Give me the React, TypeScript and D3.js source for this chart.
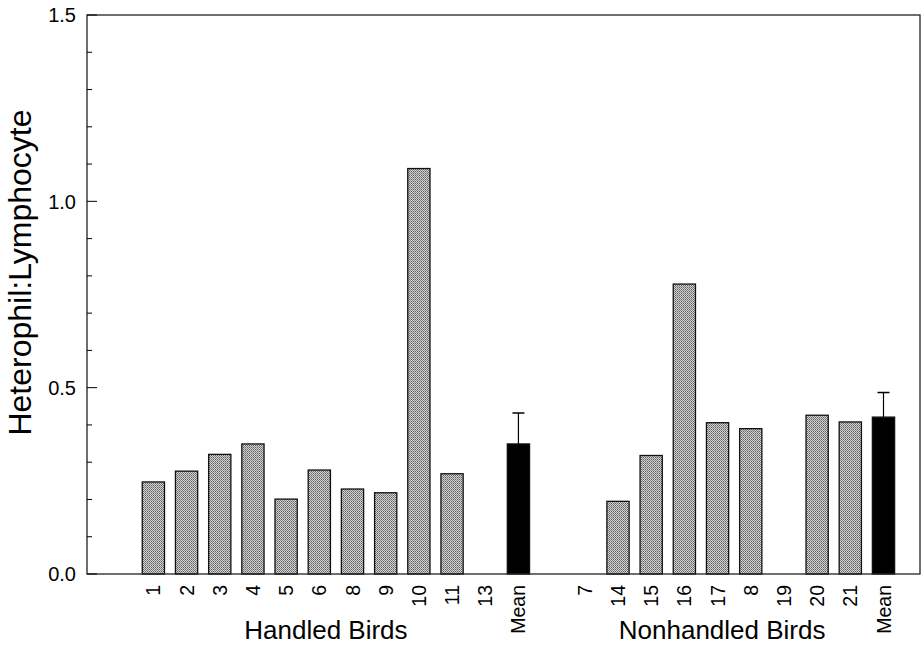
import React, { useRef, useEffect } from "react";
import * as d3 from "d3";

const handledLabels = ["1", "2", "3", "4", "5", "6", "8", "9", "10", "11", "13", "Mean"];
const handledValues = [0.247, 0.276, 0.321, 0.349, 0.201, 0.279, 0.228, 0.218, 1.088, 0.269, 0, 0.349];
const nonhandledLabels = ["7", "14", "15", "16", "17", "8", "19", "20", "21", "Mean"];
const nonhandledValues = [0, 0.195, 0.318, 0.778, 0.406, 0.39, 0, 0.426, 0.408, 0.421];
const meanErrors = [0.083, 0.066];
const yTicks = [0, 0.5, 1.0, 1.5];
const groupTitles = ["Handled Birds", "Nonhandled Birds"];

type Bar = { label: string; value: number; slot: number; isMean: boolean; err: number };

function App() {
    const svgRef = useRef<SVGSVGElement>(null);

    useEffect(() => {
        const width = 922;
        const height = 645;
        const margin = { top: 15, right: 2, bottom: 71, left: 87 };
        const innerWidth = width - margin.left - margin.right;
        const innerHeight = height - margin.top - margin.bottom;
        const font = "Liberation Sans, Arial, sans-serif";

        const bars: Bar[] = [];
        handledLabels.forEach((label, i) =>
            bars.push({ label, value: handledValues[i], slot: i, isMean: label === "Mean", err: label === "Mean" ? meanErrors[0] : 0 })
        );
        nonhandledLabels.forEach((label, i) =>
            bars.push({ label, value: nonhandledValues[i], slot: handledLabels.length + 1 + i, isMean: label === "Mean", err: label === "Mean" ? meanErrors[1] : 0 })
        );

        const svg = d3.select(svgRef.current);
        svg.selectAll("*").remove();
        svg.attr("width", width).attr("height", height);

        const pattern = svg.append("defs")
            .append("pattern")
            .attr("id", "stipple")
            .attr("width", 2)
            .attr("height", 2)
            .attr("patternUnits", "userSpaceOnUse");
        pattern.append("rect").attr("width", 2).attr("height", 2).attr("fill", "#d2d2d2");
        pattern.append("rect").attr("x", 0).attr("y", 0).attr("width", 1).attr("height", 1).attr("fill", "#606060");
        pattern.append("rect").attr("x", 1).attr("y", 1).attr("width", 1).attr("height", 1).attr("fill", "#858585");

        const xScale = d3.scaleLinear().domain([-2, 23.1]).range([0, innerWidth]);
        const yScale = d3.scaleLinear().domain([0, 1.5]).range([innerHeight, 0]);
        const barWidth = (xScale(1) - xScale(0)) * 0.67;

        const g = svg.append("g").attr("transform", `translate(${margin.left},${margin.top})`);

        // bars
        g.selectAll("rect.bar")
            .data(bars.filter((d) => d.value > 0))
            .enter()
            .append("rect")
            .attr("class", "bar")
            .attr("x", (d) => xScale(d.slot) - barWidth / 2)
            .attr("y", (d) => yScale(d.value))
            .attr("width", barWidth)
            .attr("height", (d) => innerHeight - yScale(d.value))
            .attr("fill", (d) => (d.isMean ? "#000" : "url(#stipple)"))
            .attr("stroke", "#111")
            .attr("stroke-width", 1.3);

        // error bars (upper only)
        const errs = bars.filter((d) => d.isMean);
        g.selectAll("line.err")
            .data(errs)
            .enter()
            .append("line")
            .attr("x1", (d) => xScale(d.slot))
            .attr("x2", (d) => xScale(d.slot))
            .attr("y1", (d) => yScale(d.value))
            .attr("y2", (d) => yScale(d.value + d.err))
            .attr("stroke", "#000")
            .attr("stroke-width", 1.2);
        g.selectAll("line.cap")
            .data(errs)
            .enter()
            .append("line")
            .attr("x1", (d) => xScale(d.slot) - 6)
            .attr("x2", (d) => xScale(d.slot) + 6)
            .attr("y1", (d) => yScale(d.value + d.err))
            .attr("y2", (d) => yScale(d.value + d.err))
            .attr("stroke", "#000")
            .attr("stroke-width", 1.5);

        // frame
        g.append("rect")
            .attr("x", 0)
            .attr("y", 0)
            .attr("width", innerWidth)
            .attr("height", innerHeight)
            .attr("fill", "none")
            .attr("stroke", "#222")
            .attr("stroke-width", 1.3);

        // y ticks, inward
        const minor = d3.range(0, 1.501, 0.1).filter((v) => !yTicks.some((t) => Math.abs(t - v) < 1e-6));
        g.selectAll("line.minor")
            .data(minor)
            .enter()
            .append("line")
            .attr("x1", 0)
            .attr("x2", 5)
            .attr("y1", (d) => yScale(d))
            .attr("y2", (d) => yScale(d))
            .attr("stroke", "#000");
        g.selectAll("line.major")
            .data(yTicks)
            .enter()
            .append("line")
            .attr("x1", 0)
            .attr("x2", 10)
            .attr("y1", (d) => yScale(d))
            .attr("y2", (d) => yScale(d))
            .attr("stroke", "#000");
        g.selectAll("text.ytick")
            .data(yTicks)
            .enter()
            .append("text")
            .attr("x", -11)
            .attr("y", (d) => yScale(d))
            .attr("dy", "0.36em")
            .attr("text-anchor", "end")
            .attr("font-family", font)
            .attr("font-size", 20)
            .text((d) => d3.format(".1f")(d));

        // x labels, rotated
        g.selectAll("text.xtick")
            .data(bars)
            .enter()
            .append("text")
            .attr("transform", (d) => `translate(${xScale(d.slot)},${innerHeight + 11}) rotate(-90)`)
            .attr("dy", "0.36em")
            .attr("text-anchor", "end")
            .attr("font-family", font)
            .attr("font-size", 19.5)
            .text((d) => d.label);

        // group titles
        const groupCenters = [
            (xScale(0) + xScale(handledLabels.length - 1)) / 2 - 10,
            (xScale(handledLabels.length + 1) + xScale(handledLabels.length + nonhandledLabels.length)) / 2 - 12,
        ];
        g.selectAll("text.group")
            .data(groupTitles)
            .enter()
            .append("text")
            .attr("x", (d, i) => groupCenters[i])
            .attr("y", innerHeight + 65)
            .attr("text-anchor", "middle")
            .attr("font-family", font)
            .attr("font-size", 26)
            .text((d) => d);

        // y title
        g.append("text")
            .attr("transform", `translate(${-margin.left + 31},${innerHeight / 2 - 22}) rotate(-90)`)
            .attr("text-anchor", "middle")
            .attr("font-family", font)
            .attr("font-size", 32)
            .text("Heterophil:Lymphocyte");
    }, []);

    return <svg ref={svgRef} style={{ position: "absolute", left: 0, top: 0 }}></svg>;
}

export default App;
